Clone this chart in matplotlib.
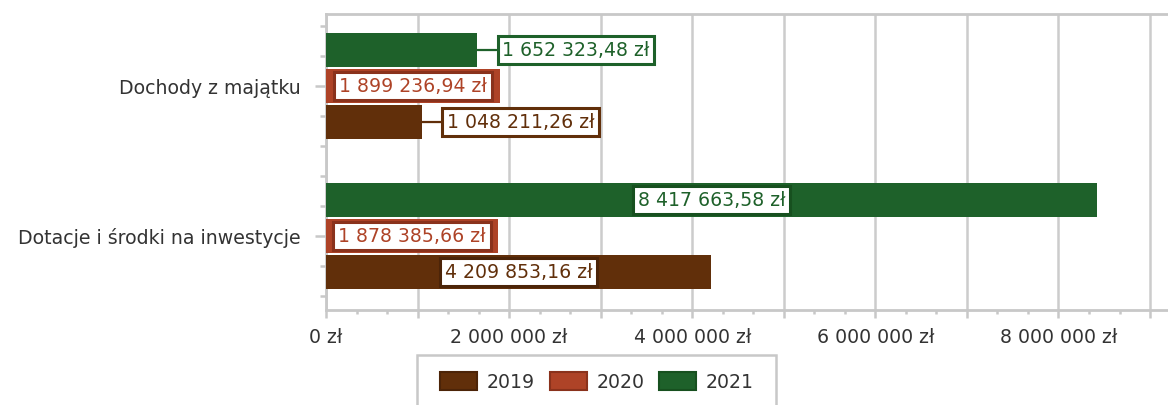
import matplotlib
matplotlib.use('Agg')
import matplotlib.pyplot as plt
from matplotlib.ticker import MultipleLocator, FuncFormatter
from matplotlib.patches import Rectangle, Patch

categories = ['Dochody z majątku', 'Dotacje i środki na inwestycje']
years = ['2019', '2020', '2021']
values_2019 = [1048211.26, 4209853.16]
values_2020 = [1899236.94, 1878385.66]
values_2021 = [1652323.48, 8417663.58]

colors = {'2019': '#612f0a', '2020': '#ae4327', '2021': '#1e612a'}
edges = {'2019': '#4c2408', '2020': '#8a321c', '2021': '#17501f'}
fs = 13.6


def pln(v, decimals=2):
    s = f'{v:,.{decimals}f}'.replace(',', ' ').replace('.', ',')
    return s + ' zł'


plt.rcParams['font.family'] = 'DejaVu Sans'
fig = plt.figure(figsize=(11.68, 4.05), dpi=100)
ax = fig.add_axes([326 / 1168, 1 - 310 / 405, 1 - 326 / 1168, 296 / 405])

series = {'2019': values_2019, '2020': values_2020, '2021': values_2021}
offsets = {'2019': 0.24, '2020': 0.0, '2021': -0.24}
bar_h = 0.232

for yr in years:
    for i, v in enumerate(series[yr]):
        y = i + offsets[yr]
        ax.barh(y, v, height=bar_h, color=colors[yr], linewidth=0, zorder=3)
        # label inside when it fits, otherwise to the right with a leader line
        if v >= 1.8e6:
            ax.text(v / 2, y, pln(v), ha='center', va='center', fontsize=fs,
                    color=colors[yr], zorder=5,
                    bbox=dict(boxstyle='square,pad=0.25', fc='white',
                              ec=edges[yr], lw=2.2))
        else:
            ax.annotate(pln(v), xy=(v, y), xytext=(18, 0), textcoords='offset points',
                        ha='left', va='center', fontsize=fs, color=colors[yr], zorder=5,
                        bbox=dict(boxstyle='square,pad=0.25', fc='white',
                                  ec=colors[yr], lw=2.2),
                        arrowprops=dict(arrowstyle='-', color=colors[yr], lw=1.6,
                                        shrinkA=0, shrinkB=0))

ax.set_xlim(0, 9.196e6)
ax.set_ylim(1.493, -0.48)

ax.xaxis.set_major_locator(MultipleLocator(1e6))
ax.xaxis.set_minor_locator(MultipleLocator(1e6 / 3))
ax.xaxis.set_major_formatter(FuncFormatter(
    lambda x, p: pln(x, 0) if round(x / 1e6) % 2 == 0 else ''))
ax.set_yticks(range(len(categories)))
ax.set_yticklabels(categories)
ax.yaxis.set_minor_locator(MultipleLocator(0.2))

ax.tick_params(axis='both', which='both', colors='#c8c8c8', labelcolor='#333333',
               labelsize=fs, width=1.8)
ax.tick_params(axis='x', which='major', length=6, pad=7)
ax.tick_params(axis='x', which='minor', length=3)
ax.tick_params(axis='y', which='major', length=8, pad=10)
ax.tick_params(axis='y', which='minor', length=4.5)

ax.grid(axis='x', which='major', color='#cccccc', lw=1.8, zorder=0)
for s in ['left', 'bottom', 'top']:
    ax.spines[s].set_color('#c8c8c8')
    ax.spines[s].set_linewidth(2)
ax.spines['right'].set_visible(False)

handles = [Patch(facecolor=colors[y], edgecolor=edges[y], lw=1.5, label=y) for y in years]
fig.legend(handles=handles, loc='center', bbox_to_anchor=(597 / 1168, 1 - 382 / 405),
           ncol=3, frameon=False, fontsize=fs, handlelength=1.95, handleheight=1.1,
           handletextpad=0.5, columnspacing=0.8, labelcolor='#333333')
fig.add_artist(Rectangle((417 / 1168, -0.2), 359 / 1168, 0.2 + 50 / 405,
                         transform=fig.transFigure, fill=False,
                         ec='#c8c8c8', lw=1.8))

fig.savefig('out.png', dpi=100)
